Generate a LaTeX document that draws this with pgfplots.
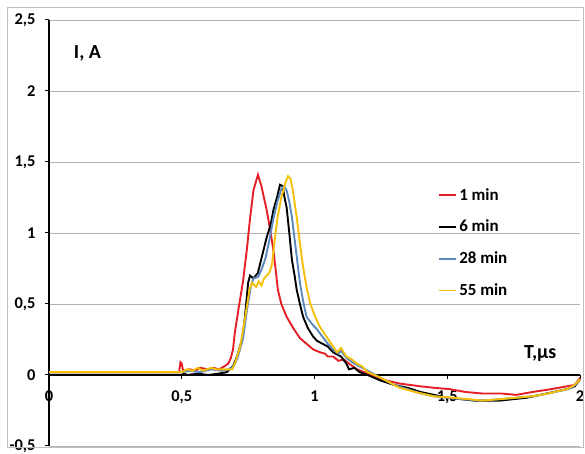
\documentclass[border=0pt]{standalone}
\usepackage{fontspec}
\setmainfont{Carlito}
\usepackage{pgfplots}
\pgfplotsset{compat=1.18}

\definecolor{cRed}{RGB}{228,32,38}
\definecolor{cBlue}{RGB}{91,137,190}
\definecolor{cYel}{RGB}{245,192,10}

\begin{document}
\begin{tikzpicture}
\begin{axis}[
    scale only axis,
    width=531bp, height=426bp,
    xmin=0, xmax=2, ymin=-0.5, ymax=2.5,
    axis x line*=middle, axis y line*=left,
    hide obscured x ticks=false, hide obscured y ticks=false,
    xtick={0,0.5,1,1.5,2}, ytick={-0.5,0,0.5,1,1.5,2,2.5},
    tick align=outside, major tick length=4bp,
    tick style={black, line width=1bp},
    axis line style={black, line width=1.6bp},
    ymajorgrids, grid style={black!30, line width=0.8bp},
    /pgf/number format/assume math mode=true,
    /pgf/number format/use comma,
    tick label style={font=\fontsize{16.5}{18}\selectfont\bfseries},
    x tick label style={yshift=-8bp},
    y tick label style={xshift=-6bp},
    clip=false,
    legend cell align=left,
    legend style={draw=none, fill=none, at={(axis cs:1.455,1.345)}, anchor=north west,
        font=\fontsize{17}{19}\selectfont\bfseries, row sep=14.5bp},
    legend image code/.code={\draw[#1, line width=1.8bp] (0bp,0bp) -- (17bp,0bp);},
]
\draw[black!25, line width=0.8bp] (axis cs:-0.158,-0.507) rectangle (axis cs:2.011,2.592);
\coordinate (bl) at (axis cs:-0.1846,-0.5563);
\coordinate (tr) at (axis cs:2.0188,2.6408);

\addplot[cRed, line width=1.9bp] coordinates {
(0,0.02) (0.49,0.02) (0.495,0.09) (0.50,0.08) (0.505,0.03) (0.53,0.04) (0.55,0.03) (0.57,0.05) (0.6,0.04)
(0.62,0.05) (0.64,0.04) (0.66,0.06) (0.675,0.08) (0.685,0.12) (0.693,0.18) (0.70,0.3) (0.715,0.48)
(0.73,0.65) (0.745,0.88) (0.757,1.1) (0.77,1.3) (0.787,1.41) (0.80,1.33) (0.82,1.16) (0.835,1.0)
(0.845,0.88) (0.855,0.72) (0.862,0.60) (0.875,0.5) (0.895,0.41) (0.92,0.33) (0.945,0.26) (0.97,0.22)
(0.995,0.18) (1.02,0.16) (1.04,0.15) (1.05,0.13) (1.07,0.13) (1.09,0.10) (1.11,0.11) (1.13,0.08)
(1.16,0.04) (1.2,0.01) (1.25,-0.03) (1.32,-0.06) (1.4,-0.08) (1.45,-0.09) (1.51,-0.10) (1.57,-0.12)
(1.63,-0.13) (1.7,-0.13) (1.76,-0.14) (1.82,-0.12) (1.89,-0.10) (1.95,-0.08) (1.98,-0.07) (2.0,-0.02)
};
\addlegendentry{1 min}

\addplot[black, line width=1.9bp] coordinates {
(0,0.02) (0.5,0.02) (0.52,0.0) (0.56,0.01) (0.6,0.0) (0.64,0.01) (0.67,0.02) (0.685,0.05) (0.693,0.06)
(0.71,0.14) (0.73,0.27) (0.74,0.45) (0.75,0.65) (0.757,0.70) (0.77,0.68) (0.787,0.72) (0.80,0.82)
(0.82,0.97) (0.835,1.06) (0.845,1.16) (0.86,1.26) (0.87,1.34) (0.88,1.33) (0.887,1.25) (0.895,1.18)
(0.905,1.0) (0.915,0.81) (0.925,0.7) (0.933,0.60) (0.945,0.5) (0.957,0.41) (0.975,0.33) (0.995,0.27)
(1.01,0.24) (1.03,0.22) (1.05,0.2) (1.07,0.16) (1.1,0.13) (1.12,0.08) (1.13,0.04) (1.15,0.05)
(1.17,0.02) (1.2,0.0) (1.25,-0.04) (1.3,-0.07) (1.35,-0.09) (1.4,-0.12) (1.45,-0.14) (1.5,-0.16)
(1.55,-0.17) (1.6,-0.18) (1.7,-0.18) (1.75,-0.17) (1.8,-0.16) (1.85,-0.14) (1.9,-0.12) (1.95,-0.10)
(1.98,-0.08) (2.0,-0.03)
};
\addlegendentry{6 min}

\addplot[cBlue, line width=1.9bp] coordinates {
(0,0.02) (0.5,0.02) (0.53,0.03) (0.57,0.02) (0.61,0.04) (0.65,0.03) (0.68,0.04) (0.695,0.06)
(0.71,0.12) (0.73,0.25) (0.745,0.45) (0.76,0.62) (0.77,0.68) (0.787,0.69) (0.80,0.74) (0.815,0.82)
(0.83,0.95) (0.845,1.1) (0.86,1.22) (0.875,1.31) (0.885,1.33) (0.895,1.30) (0.905,1.22) (0.915,1.11)
(0.93,0.88) (0.945,0.65) (0.957,0.52) (0.97,0.41) (0.99,0.36) (1.01,0.32) (1.03,0.27) (1.05,0.22)
(1.07,0.18) (1.09,0.15) (1.1,0.17) (1.12,0.12) (1.15,0.08) (1.2,0.03) (1.25,-0.02) (1.3,-0.07)
(1.35,-0.10) (1.4,-0.13) (1.45,-0.15) (1.5,-0.16) (1.55,-0.17) (1.63,-0.18) (1.7,-0.17) (1.76,-0.16)
(1.82,-0.15) (1.88,-0.13) (1.93,-0.11) (1.97,-0.09) (2.0,-0.03)
};
\addlegendentry{28 min}

\addplot[cYel, line width=1.9bp] coordinates {
(0,0.02) (0.5,0.02) (0.52,0.04) (0.54,0.03) (0.56,0.05) (0.58,0.03) (0.61,0.05) (0.63,0.04) (0.66,0.04)
(0.69,0.04) (0.70,0.08) (0.72,0.2) (0.74,0.42) (0.755,0.6) (0.765,0.65) (0.78,0.62) (0.79,0.66)
(0.80,0.63) (0.81,0.68) (0.82,0.7) (0.83,0.72) (0.84,0.78) (0.85,0.95) (0.86,1.1) (0.875,1.25)
(0.89,1.35) (0.9,1.40) (0.91,1.38) (0.92,1.28) (0.933,1.11) (0.945,0.93) (0.957,0.76) (0.97,0.62)
(0.983,0.51) (1.0,0.42) (1.02,0.34) (1.045,0.27) (1.07,0.20) (1.085,0.16) (1.1,0.19) (1.12,0.13)
(1.14,0.11) (1.16,0.08) (1.18,0.06) (1.2,0.02) (1.25,-0.02) (1.32,-0.09) (1.38,-0.12) (1.45,-0.15)
(1.52,-0.16) (1.58,-0.17) (1.63,-0.18) (1.7,-0.17) (1.76,-0.16) (1.82,-0.15) (1.88,-0.13)
(1.95,-0.10) (1.98,-0.07) (2.0,-0.03)
};
\addlegendentry{55 min}

\node[font=\fontsize{20}{22}\selectfont\bfseries] at (axis cs:0.145,2.268) {I, A};
\node[font=\fontsize{20}{22}\selectfont\bfseries] at (axis cs:1.85,0.148) {T,μs};
\end{axis}
\pgfresetboundingbox
\useasboundingbox (bl) rectangle (tr);
\end{tikzpicture}
\end{document}
